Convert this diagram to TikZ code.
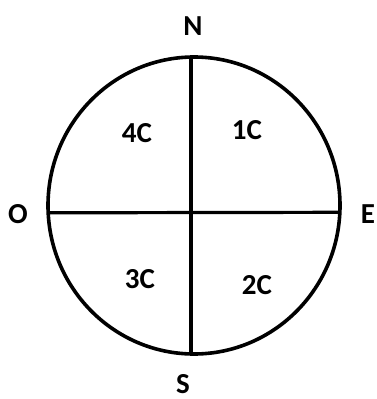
\documentclass[tikz,border=0pt]{standalone}
\usepackage{fontspec}
\setmainfont{Carlito}
\begin{document}
\begin{tikzpicture}[x=1pt, y=-1pt,
    lbl/.style={font=\fontsize{29}{34}\selectfont\bfseries, inner sep=0pt},
    trait/.style={line width=3.6pt}]

% --- Cadre ---
\useasboundingbox (0,0) rectangle (376,399);

% --- Dimensions ---
\def\cx{194}
\def\cy{205.5}
\def\rx{146}
\def\ry{148.5}

% --- Extrémités des axes ---
\coordinate (haut)   at (191,57.1);
\coordinate (bas)    at (191,353.9);
\coordinate (gauche) at (48.2,212.8);
\coordinate (droite) at (339.8,212.3);

% --- Cercle ---
\draw[trait] (\cx,\cy) ellipse [x radius=\rx, y radius=\ry];

% --- Axes ---
\draw[trait, line width=3.2pt] (haut) -- (bas);
\draw[trait, line width=3.2pt] (gauche) -- (droite);

% --- Points cardinaux ---
\node[lbl] (nord)  at (193,26)  {N};
\node[lbl] (sud)   at (183,384) {S};
\node[lbl] (ouest) at (18,214)  {O};
\node[lbl] (est)   at (368,214) {E};

% --- Quadrants ---
\node[lbl] (q4) at (137,133) {4C};
\node[lbl] (q1) at (247,130) {1C};
\node[lbl] (q3) at (140,279) {3C};
\node[lbl] (q2) at (257,285) {2C};

\end{tikzpicture}
\end{document}
